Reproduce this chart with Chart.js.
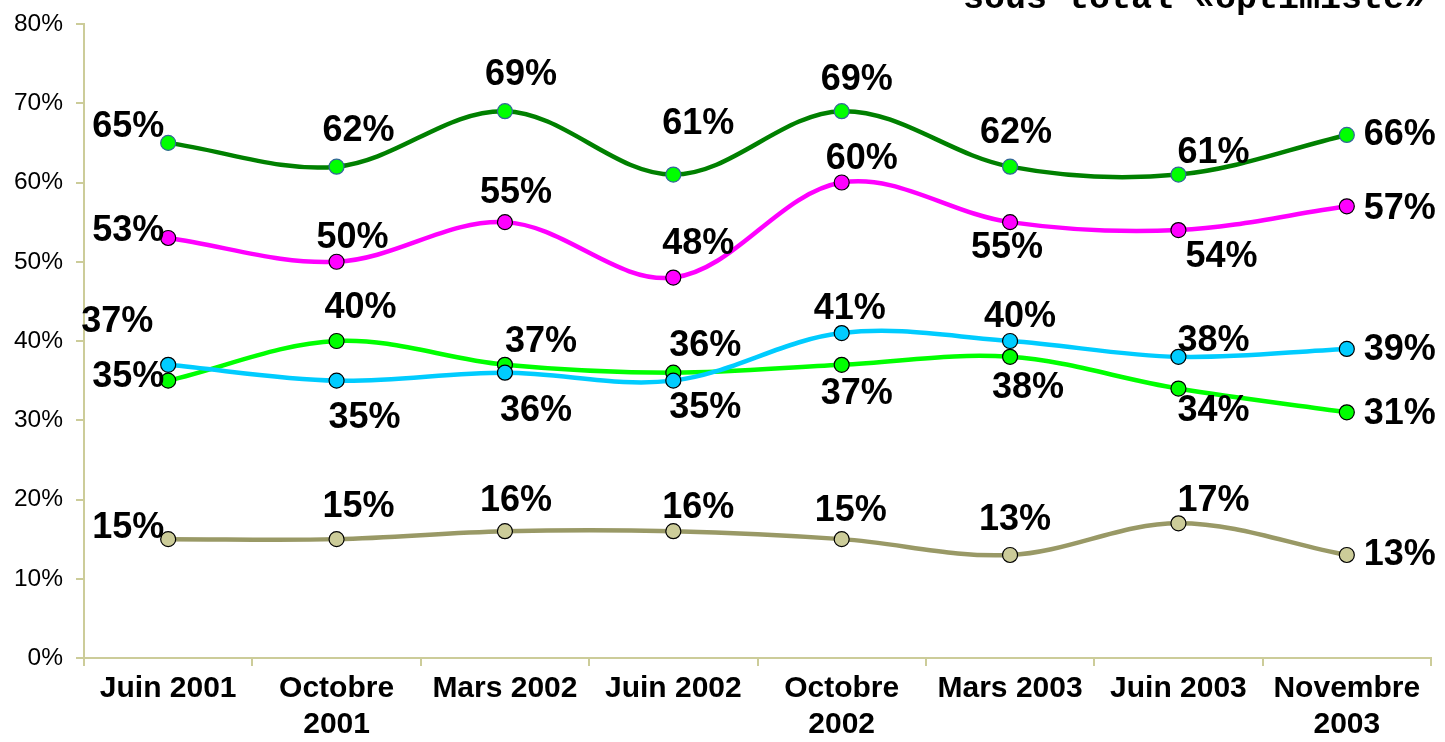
<!DOCTYPE html>
<html>
<head>
<meta charset="utf-8">
<script src="https://cdn.jsdelivr.net/npm/chart.js@4/dist/chart.umd.min.js"></script>
<style>
  html, body { margin: 0; padding: 0; background: #fff; }
  #wrap { width: 1445px; height: 742px; position: relative; }
</style>
</head>
<body>
<div id="wrap"><canvas id="chart"></canvas></div>
<script>
// Global vars
var months = [['Juin 2001'], ['Octobre', '2001'], ['Mars 2002'], ['Juin 2002'],
              ['Octobre', '2002'], ['Mars 2003'], ['Juin 2003'], ['Novembre', '2003']];
var yTicks = [0, 10, 20, 30, 40, 50, 60, 70, 80];

var totalOptimiste = [65, 62, 69, 61, 69, 62, 61, 66];
var serieRose      = [53, 50, 55, 48, 60, 55, 54, 57];
var serieBleue     = [37, 35, 36, 35, 41, 40, 38, 39];
var serieVerte     = [35, 40, 37, 36, 37, 38, 34, 31];
var serieKaki      = [15, 15, 16, 16, 15, 13, 17, 13];

var titleText = 'sous total \u00aboptimiste\u00bb';

// where each value label sits relative to its point (dx, dy in px)
var shiftOptimiste = [[-40,-16],[22,-36],[16,-36],[25,-50],[15,-31],[6,-34],[35,-21],[53,0]];
var shiftRose      = [[-40,-7],[16,-24],[11,-29],[25,-34],[20,-23],[-3,26],[43,27],[53,3]];
var shiftBleue     = [[-51,-43],[28,37],[31,38],[32,27],[8,-24],[10,-24],[35,-16],[53,1]];
var shiftVerte     = [[-40,-4],[24,-33],[36,-23],[32,-27],[15,29],[18,31],[35,23],[53,2]];
var shiftKaki      = [[-40,-11],[22,-32],[11,-30],[25,-23],[9,-28],[5,-35],[35,-22],[53,0]];

function makeSet(label, data, line, fill, border, shift) {
    return {
        label: label,
        data: data,
        borderColor: line,
        borderWidth: 4.5,
        pointBackgroundColor: fill,
        pointBorderColor: border,
        pointBorderWidth: 1.2,
        pointRadius: 7.5,
        pointHoverRadius: 7.5,
        tension: 0.35,
        fill: false,
        shift: shift
    };
}

var valueLabels = {
    id: 'valueLabels',
    afterDatasetsDraw: function(chart) {
        var ctx = chart.ctx;
        ctx.save();
        ctx.font = 'bold 36px "Liberation Sans", Arial, sans-serif';
        ctx.fillStyle = '#000';
        ctx.textAlign = 'center';
        ctx.textBaseline = 'middle';
        chart.data.datasets.forEach(function(ds, i) {
            var meta = chart.getDatasetMeta(i);
            meta.data.forEach(function(pt, j) {
                var s = ds.shift[j];
                ctx.fillText(ds.data[j] + '%', pt.x + s[0], pt.y + s[1]);
            });
        });
        ctx.restore();
    }
};

var topTitle = {
    id: 'topTitle',
    afterDraw: function(chart) {
        var ctx = chart.ctx;
        ctx.save();
        ctx.font = 'bold 35px "Liberation Mono", "Courier New", monospace';
        ctx.fillStyle = '#000';
        ctx.textAlign = 'left';
        ctx.textBaseline = 'alphabetic';
        ctx.fillText(titleText, 963, 8);
        ctx.restore();
    }
};

var axisColor = '#cccc99';

new Chart(document.getElementById('chart').getContext('2d'), {
    type: 'line',
    data: {
        labels: months,
        datasets: [
            makeSet('sous total optimiste', totalOptimiste, '#008000', '#00ff00', '#336699', shiftOptimiste),
            makeSet('rose', serieRose, '#ff00ff', '#ff00ff', '#000', shiftRose),
            makeSet('bleu', serieBleue, '#00ccff', '#00ccff', '#000', shiftBleue),
            makeSet('vert', serieVerte, '#00ff00', '#00ff00', '#000', shiftVerte),
            makeSet('kaki', serieKaki, '#999966', '#cccc99', '#000', shiftKaki)
        ]
    },
    plugins: [valueLabels, topTitle],
    options: {
        responsive: true,
        maintainAspectRatio: false,
        animation: false,
        layout: { padding: { top: 24, right: 14, left: 0, bottom: 0 } },
        plugins: {
            legend: { display: false },
            tooltip: { enabled: false }
        },
        scales: {
            x: {
                offset: true,
                grid: {
                    offset: true,
                    drawOnChartArea: false,
                    drawTicks: true,
                    tickLength: 8,
                    color: axisColor,
                    lineWidth: 2
                },
                border: { color: axisColor, width: 2 },
                ticks: {
                    color: '#000',
                    maxRotation: 0,
                    autoSkip: false,
                    padding: 5,
                    font: { family: '"Liberation Sans", Arial, sans-serif', size: 30, weight: 'bold', lineHeight: 1.2 }
                },
                afterFit: function(scale) { scale.height = 84; }
            },
            y: {
                min: 0,
                max: 80,
                afterBuildTicks: function(scale) {
                    scale.ticks = yTicks.map(function(v) { return { value: v }; });
                },
                grid: {
                    drawOnChartArea: false,
                    drawTicks: true,
                    tickLength: 8,
                    color: axisColor,
                    lineWidth: 2
                },
                border: { color: axisColor, width: 2 },
                ticks: {
                    color: '#000',
                    padding: 13,
                    font: { family: '"Liberation Sans", Arial, sans-serif', size: 24.5 },
                    callback: function(v) { return v + '%'; }
                },
                afterFit: function(scale) {
                    scale.width = 84;
                    scale.paddingTop = 0;
                    scale.paddingBottom = 0;
                }
            }
        }
    }
});
</script>
</body>
</html>
